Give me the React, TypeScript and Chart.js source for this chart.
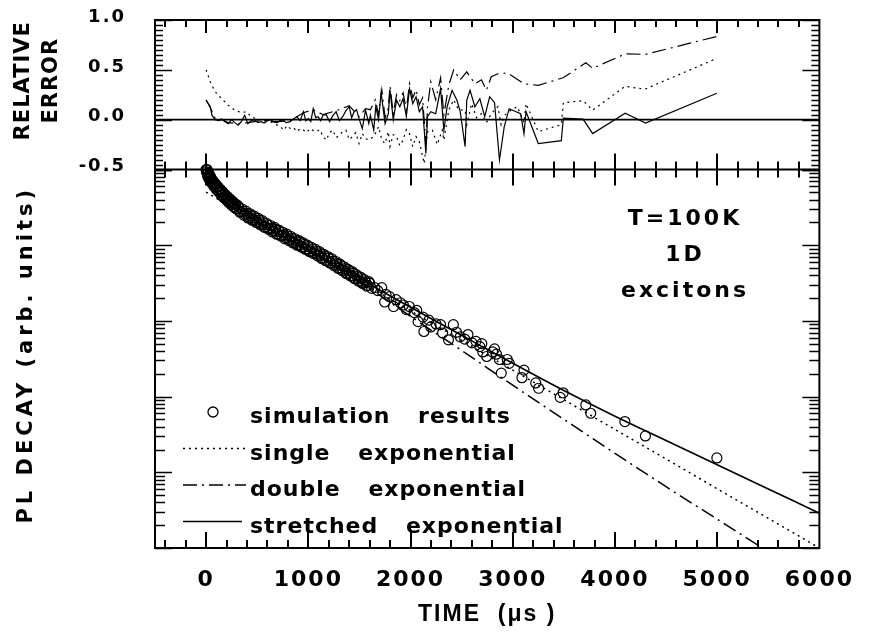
import React, { useEffect, useRef } from "react";
import { Chart, registerables } from "chart.js";
Chart.register(...registerables);

// ---------- DATA ----------
const xTickValues = [0, 1000, 2000, 3000, 4000, 5000, 6000];
const errTickValues = [-0.5, 0.0, 0.5, 1.0];
const legendLabels = ["simulation results", "single exponential", "double exponential", "stretched exponential"];
const annotationLines = ["T=100K", "1D", "excitons"];

// simulation results: time (µs) and log10 of PL decay
const simTime = [
  0, 6, 12, 18, 24, 30, 36, 42, 48, 60, 72, 84, 96, 108, 120, 132, 144, 156, 168, 180, 192, 204, 216, 228, 240, 252, 264, 276, 288, 300,
  320, 340, 360, 380, 400, 420, 440, 460, 480, 500, 520, 540, 560, 580, 600, 620, 640, 660, 680, 700, 720, 740, 760, 780, 800,
  820, 840, 860, 880, 900, 920, 940, 960, 980, 1000, 1020, 1040, 1060, 1080, 1100, 1120, 1140, 1160, 1180, 1200, 1220, 1240,
  1260, 1280, 1300, 1320, 1340, 1360, 1380, 1400, 1420, 1440, 1460, 1480, 1500, 1520, 1540, 1560, 1580, 1600,
  1620, 1650, 1680, 1718, 1747, 1760, 1795, 1834, 1860, 1900, 1930, 1960, 1988, 2036, 2060, 2074, 2122, 2131, 2179, 2198,
  2250, 2294, 2314, 2371, 2419, 2450, 2486, 2530, 2562, 2601, 2640, 2678, 2697, 2707, 2745, 2803, 2822, 2841, 2870, 2888,
  2946, 2965, 3090, 3110, 3225, 3253, 3464, 3493, 3715, 3763, 4097, 4298, 4997,
];
const simLogPL = [
  0.0, -0.01, -0.06, -0.05, -0.10, -0.08, -0.12, -0.11, -0.15, -0.15, -0.20, -0.19, -0.24, -0.23, -0.28, -0.27, -0.29, -0.34, -0.32, -0.36, -0.35, -0.40, -0.39, -0.42, -0.41, -0.46, -0.44, -0.49, -0.47, -0.52,
  -0.50, -0.56, -0.55, -0.59, -0.58, -0.63, -0.61, -0.66, -0.64, -0.69, -0.67, -0.72, -0.70, -0.76, -0.73, -0.78, -0.77, -0.81, -0.79, -0.85, -0.82, -0.87, -0.86, -0.90, -0.88,
  -0.93, -0.91, -0.96, -0.94, -0.99, -0.96, -1.02, -0.99, -1.05, -1.02, -1.08, -1.05, -1.10, -1.08, -1.13, -1.11, -1.17, -1.14, -1.20, -1.17, -1.23, -1.21,
  -1.26, -1.24, -1.30, -1.27, -1.33, -1.31, -1.37, -1.34, -1.40, -1.37, -1.44, -1.41, -1.47, -1.44, -1.50, -1.48, -1.53, -1.50,
  -1.57, -1.56, -1.60, -1.56, -1.75, -1.65, -1.68, -1.81, -1.72, -1.76, -1.79, -1.85, -1.81, -1.89, -1.86, -2.01, -1.95, -2.14, -1.99, -2.08,
  -2.04, -2.05, -2.16, -2.25, -2.05, -2.15, -2.21, -2.24, -2.18, -2.29, -2.27, -2.34, -2.30, -2.41, -2.47, -2.41, -2.37, -2.44, -2.51, -2.69,
  -2.51, -2.56, -2.75, -2.65, -2.82, -2.89, -3.01, -2.95, -3.11, -3.22, -3.33, -3.52, -3.81,
];
// further overlapping simulation circles in the dense early part of the decay
const simTimeDense = [
  3, 9, 15, 21, 27, 33, 39, 45, 54, 66, 78, 90, 102, 114, 126, 138, 150, 162, 174, 186, 198, 210, 222, 234, 246, 258, 270, 282, 294,
  310, 330, 350, 370, 390, 410, 430, 450, 470, 490, 510, 530, 550, 570, 590, 610, 630, 650, 670, 690, 710, 730, 750, 770, 790,
  810, 830, 850, 870, 890, 910, 930, 950, 970, 990, 1010, 1030, 1050, 1070, 1090, 1110, 1130, 1150, 1170, 1190, 1210, 1230,
  1250, 1270, 1290, 1310, 1330, 1350, 1370, 1390, 1410, 1430, 1450, 1470, 1490, 1510, 1530, 1550, 1570, 1590,
];
const simLogPLDense = [
  -0.03, 0.0, -0.09, -0.04, -0.12, -0.07, -0.145, -0.10, -0.18, -0.145, -0.225, -0.185, -0.265, -0.225, -0.30, -0.26, -0.34, -0.295, -0.375, -0.33, -0.405, -0.36, -0.435, -0.39, -0.465, -0.42, -0.495, -0.45, -0.52,
  -0.475, -0.565, -0.52, -0.605, -0.55, -0.64, -0.585, -0.67, -0.615, -0.70, -0.645, -0.73, -0.675, -0.765, -0.71, -0.79, -0.74, -0.825, -0.765, -0.855, -0.80, -0.88, -0.83, -0.915, -0.855,
  -0.94, -0.885, -0.97, -0.915, -1.00, -0.94, -1.025, -0.97, -1.055, -1.00, -1.085, -1.03, -1.11, -1.055, -1.14, -1.085, -1.175, -1.12, -1.205, -1.15, -1.235, -1.18,
  -1.27, -1.215, -1.305, -1.25, -1.335, -1.285, -1.375, -1.32, -1.405, -1.35, -1.44, -1.39, -1.475, -1.42, -1.505, -1.455, -1.54, -1.48,
];

// fitted curves: time and log10 of fitted PL
const singleTime = [0, 6000];
const singleLogPL = [-0.30, -5.0];
const doubleTime = [0, 100, 200, 300, 500, 750, 1000, 1500, 2000, 2500, 3000, 3500, 4000, 4500, 5000, 5500];
const doubleLogPL = [-0.10, -0.24, -0.385, -0.51, -0.685, -0.875, -1.06, -1.48, -1.94, -2.39, -2.85, -3.30, -3.75, -4.19, -4.62, -5.05];
const stretchTime = [0, 50, 100, 200, 300, 500, 750, 1000, 1250, 1500, 2000, 2500, 3000, 3500, 4000, 4500, 5000, 5500, 6000];
const stretchLogPL = [-0.09, -0.15, -0.235, -0.37, -0.49, -0.68, -0.87, -1.05, -1.24, -1.44, -1.82, -2.19, -2.56, -2.92, -3.26, -3.58, -3.90, -4.22, -4.54];

// relative errors
const errSingleTime = [
  0, 41, 73, 105, 153, 217, 281, 345, 393, 441, 489, 537, 585, 632, 664, 696, 728, 760, 792, 824, 856, 888, 920, 952, 984, 1016,
  1048, 1080, 1112, 1144, 1176, 1208, 1240, 1272, 1304, 1336, 1368, 1400, 1432, 1464, 1496, 1528, 1560, 1592, 1640, 1688, 1719,
  1751, 1783, 1799, 1831, 1863, 1895, 1927, 1959, 1990, 2022, 2054, 2086, 2134, 2166, 2214, 2262, 2310, 2326, 2374, 2422, 2470,
  2534, 2550, 2598, 2646, 2694, 2742, 2790, 2854, 2886, 2917, 2981, 3045, 3110, 3130, 3250, 3475, 3495, 3688, 3782, 4100, 4291, 4997,
];
const errSingle = [
  0.50, 0.38, 0.31, 0.26, 0.21, 0.145, 0.095, 0.07, 0.08, 0.03, 0.01, -0.005, -0.01, -0.02, -0.04, -0.055, -0.07, -0.105, -0.06, -0.09, -0.08, -0.12, -0.09, -0.105, -0.13, -0.09,
  -0.11, -0.12, -0.10, -0.17, -0.205, -0.13, -0.105, -0.18, -0.155, -0.12, -0.105, -0.20, -0.17, -0.13, -0.24, -0.14, -0.19, -0.205, -0.17, -0.07, -0.205,
  -0.24, -0.12, -0.27, -0.15, -0.17, -0.26, -0.205, -0.10, -0.14, -0.27, -0.17, -0.22, -0.44, -0.12, -0.105, -0.25, -0.105, -0.205, 0.095, 0.20, 0.10,
  0.095, -0.05, 0.16, 0.02, 0.06, -0.03, 0.06, 0.13, -0.05, 0.04, 0.095, 0.13, -0.03, 0.16, -0.12, -0.05, 0.17, 0.19, 0.095, 0.335, 0.305, 0.615,
];
const errDoubleTime = [
  0, 41, 89, 153, 217, 313, 409, 537, 696, 824, 952, 1048, 1144, 1272, 1400, 1496, 1560, 1607, 1655, 1687, 1719, 1751, 1783, 1799,
  1831, 1863, 1895, 1927, 1959, 1990, 2022, 2054, 2086, 2118, 2150, 2166, 2198, 2246, 2294, 2326, 2374, 2422, 2486, 2550, 2630,
  2694, 2742, 2790, 2854, 2950, 3110, 3250, 3493, 3715, 3782, 4100, 4298, 4997,
];
const errDouble = [
  0.20, 0.12, 0.01, 0.005, -0.03, -0.04, -0.03, -0.01, -0.02, -0.01, 0.07, 0.10, 0.05, 0.09, 0.14, 0.03, 0.11, 0.10, 0.20, 0.05, 0.30, 0.02, 0.12, 0.34,
  0.06, 0.25, 0.19, 0.27, 0.10, 0.36, 0.22, 0.30, 0.15, 0.22, -0.25, 0.12, 0.38, 0.20, 0.42, 0.05, 0.345, 0.50, 0.40, 0.48, 0.36,
  0.40, 0.295, 0.43, 0.46, 0.47, 0.36, 0.345, 0.42, 0.57, 0.515, 0.66, 0.655, 0.835,
];
const errStretchTime = [
  0, 41, 57, 89, 120, 153, 185, 217, 249, 281, 313, 345, 377, 409, 441, 473, 505, 537, 569, 600, 632, 664, 696, 720, 744, 784, 824,
  856, 888, 920, 952, 976, 1000, 1024, 1048, 1072, 1096, 1120, 1144, 1176, 1208, 1240, 1272, 1304, 1336, 1368, 1400, 1424, 1448,
  1472, 1496, 1528, 1560, 1592, 1607, 1640, 1660, 1687, 1712, 1751, 1783, 1799, 1831, 1863, 1895, 1927, 1959, 1990, 2022, 2054,
  2086, 2118, 2150, 2166, 2198, 2246, 2294, 2326, 2358, 2406, 2454, 2486, 2534, 2550, 2582, 2630, 2678, 2726, 2774, 2822, 2870,
  2917, 2965, 3077, 3110, 3130, 3250, 3475, 3495, 3688, 3782, 4100, 4300, 4997,
];
const errStretch = [
  0.195, 0.13, 0.045, 0, -0.01, 0, -0.02, -0.04, 0, -0.03, -0.055, -0.02, 0.045, -0.04, -0.01, 0, -0.03, -0.02, -0.035, -0.01, 0, -0.025, -0.03, -0.01, 0, -0.03, -0.02,
  0.01, 0.03, -0.01, 0.08, -0.01, 0.01, -0.02, 0.11, 0.02, 0.03, -0.01, 0.045, 0.05, -0.02, 0.04, 0.08, -0.01, 0.03, 0.09, 0.13, 0.02, 0.08,
  0.10, 0.01, -0.09, 0.095, -0.04, 0.045, -0.105, 0.13, 0, 0.27, -0.04, 0.06, 0.295, 0, 0.195, 0.13, 0.21, 0.03, 0.31, 0.16, 0.23,
  0.08, 0.13, -0.34, 0.03, 0.08, 0.06, 0.31, -0.105, 0.13, 0.295, 0.195, 0.08, -0.27, 0.195, 0.295, 0.13, 0.21, 0.03, 0.23, 0.17, -0.405,
  -0.07, 0.11, 0.06, -0.14, 0.08, -0.24, -0.21, 0.015, 0.005, -0.14, 0.065, -0.035, 0.265,
];

// ---------- helpers ----------
const FONT = '"DejaVu Sans", "Liberation Sans", sans-serif';
const pts = (xs: number[], ys: number[]) => xs.map((x, i) => ({ x, y: ys[i] }));
const logPts = (xs: number[], ys: number[]) => xs.map((x, i) => ({ x, y: Math.pow(10, ys[i]) }));
const DASHDOT = [14, 5, 2, 5];
const DOTTED = [2, 4];

const spacingPlugin = {
  id: "spacing",
  beforeUpdate(chart: any) { chart.ctx.letterSpacing = "2px"; },
  beforeDraw(chart: any) {
    chart.ctx.letterSpacing = "2px";
    const { ctx, width, height } = chart;
    ctx.save();
    ctx.fillStyle = "#fff";
    ctx.fillRect(0, 0, width, height);
    ctx.restore();
  },
};

const framePlugin = {
  id: "frame",
  afterDraw(chart: any) {
    const { ctx, chartArea: a, scales } = chart;
    const x = scales.x, ye = scales.yErr, yp = scales.yPL;
    const split = ye.bottom;
    const seg = (x1: number, y1: number, x2: number, y2: number) => {
      ctx.beginPath(); ctx.moveTo(x1, y1); ctx.lineTo(x2, y2); ctx.stroke();
    };
    ctx.save();
    ctx.globalAlpha = 1;
    ctx.globalCompositeOperation = "source-over";
    ctx.strokeStyle = "#000000";
    ctx.setLineDash([]);
    // zero line
    ctx.lineWidth = 1.6;
    const y0 = ye.getPixelForValue(0);
    seg(a.left, y0, a.right, y0);
    // x ticks
    ctx.lineWidth = 2;
    for (let v = -400; v <= 5800; v += 200) {
      const px = Math.round(x.getPixelForValue(v));
      const major = v % 1000 === 0;
      seg(px, a.top, px, a.top + (major ? 13 : 7));
      const L = major ? 16 : 8;
      seg(px, split - L, px, split + L);
      seg(px, a.bottom, px, a.bottom - L);
    }
    // relative error ticks
    for (let i = -10; i <= 20; i++) {
      const py = Math.round(ye.getPixelForValue(i * 0.05)) + 0.5;
      const L = i % 10 === 0 ? 17 : 8;
      ctx.lineWidth = 1.5;
      seg(a.left, py, a.left + L, py);
      seg(a.right, py, a.right - L, py);
    }
    // log ticks
    for (let e = -5; e <= 0; e++) {
      for (let m = 1; m <= 9; m++) {
        const v = m * Math.pow(10, e);
        if (v > 1) break;
        const py = Math.round(yp.getPixelForValue(v)) + 0.5;
        const L = m === 1 ? 17 : 10;
        ctx.lineWidth = 1.5;
        seg(a.left, py, a.left + L, py);
        seg(a.right, py, a.right - L, py);
      }
    }
    // frame
    ctx.lineWidth = 2;
    ctx.strokeRect(a.left, a.top, a.right - a.left, a.bottom - a.top);
    seg(a.left, split, a.right, split);

    // y titles
    ctx.fillStyle = "#000";
    ctx.textAlign = "center";
    ctx.textBaseline = "alphabetic";
    ctx.font = `bold 21px ${FONT}`;
    ctx.letterSpacing = "1px";
    const rot = (text: string, bx: number, cy: number) => {
      ctx.save(); ctx.translate(bx, cy); ctx.rotate(-Math.PI / 2); ctx.fillText(text, 0, 0); ctx.restore();
    };
    const midErr = (ye.top + ye.bottom) / 2 - 14;
    rot("RELATIVE", 29, midErr);
    rot("ERROR", 57, midErr);
    ctx.letterSpacing = "4px";
    rot("PL DECAY (arb. units)", 32, (yp.top + yp.bottom) / 2 - 4);

    // annotation
    ctx.font = `bold 22px ${FONT}`;
    ctx.letterSpacing = "3px";
    const ax = 685;
    annotationLines.forEach((t, i) => ctx.fillText(t, ax, 225 + i * 36));

    // legend
    const ds = chart.data.datasets;
    ctx.textAlign = "left";
    ctx.font = `bold 22px ${FONT}`;
    ctx.letterSpacing = "1px";
    (ctx as any).wordSpacing = "19px";
    const rows = [412, 448.5, 485, 521.5];
    rows.forEach((ry, i) => {
      const d = ds[i];
      ctx.strokeStyle = "#000";
      if (i === 0) {
        ctx.lineWidth = 1.3;
        ctx.setLineDash([]);
        ctx.beginPath(); ctx.arc(213, ry, 5, 0, Math.PI * 2); ctx.stroke();
      } else {
        ctx.lineWidth = d.borderWidth;
        ctx.setLineDash(d.borderDash || []);
        seg(183, ry, i === 3 ? 242 : 246, ry);
      }
      ctx.setLineDash([]);
      ctx.fillText(d.label, 250, ry + 11);
    });
    ctx.restore();
  },
};

export default function App() {
  const ref = useRef<HTMLCanvasElement>(null);
  useEffect(() => {
    if (!ref.current) return;
    Chart.defaults.font.family = FONT;
    Chart.defaults.color = "#000";
    const lineBase = { showLine: true, pointRadius: 0, fill: false, borderColor: "#000", xAxisID: "x" };
    const simPoints = logPts(simTime, simLogPL).concat(logPts(simTimeDense, simLogPLDense));
    const chart = new Chart(ref.current, {
      type: "scatter",
      data: {
        datasets: [
          { ...lineBase, label: legendLabels[0], data: simPoints, yAxisID: "yPL", showLine: false,
            pointRadius: 5, pointBorderWidth: 1.2, pointBorderColor: "#000", pointBackgroundColor: "rgba(0,0,0,0)", clip: 8, order: 0 } as any,
          { ...lineBase, label: legendLabels[1], data: logPts(singleTime, singleLogPL), yAxisID: "yPL", borderWidth: 1.5, borderDash: DOTTED, order: 1 },
          { ...lineBase, label: legendLabels[2], data: logPts(doubleTime, doubleLogPL), yAxisID: "yPL", borderWidth: 1.5, borderDash: DASHDOT, cubicInterpolationMode: "monotone", order: 2 },
          { ...lineBase, label: legendLabels[3], data: logPts(stretchTime, stretchLogPL), yAxisID: "yPL", borderWidth: 1.6, cubicInterpolationMode: "monotone", order: 3 },
          { ...lineBase, label: "err single", data: pts(errSingleTime, errSingle), yAxisID: "yErr", borderWidth: 1.2, borderDash: DOTTED, order: 4 },
          { ...lineBase, label: "err double", data: pts(errDoubleTime, errDouble), yAxisID: "yErr", borderWidth: 1.2, borderDash: DASHDOT, order: 5 },
          { ...lineBase, label: "err stretched", data: pts(errStretchTime, errStretch), yAxisID: "yErr", borderWidth: 1.2, order: 6 },
        ],
      },
      options: {
        responsive: false,
        animation: false,
        events: [],
        layout: { padding: { top: 20, right: 41, bottom: 0, left: 0 } },
        plugins: { legend: { display: false }, tooltip: { enabled: false } },
        scales: {
          x: {
            type: "linear", position: "bottom", min: -500, max: 6000,
            grid: { display: false, drawTicks: false }, border: { display: false },
            afterBuildTicks: (s: any) => { s.ticks = xTickValues.map((v) => ({ value: v })); },
            afterFit: (s: any) => { s.height = 84; },
            ticks: { autoSkip: false, maxRotation: 0, padding: 19, color: "#000",
              font: { family: FONT, size: 22, weight: "bold" }, callback: (v: any) => String(v) },
            title: { display: true, text: "TIME  (μs )", color: "#000", padding: { top: 0, bottom: 4 },
              font: { family: '"Liberation Sans", Arial, sans-serif', size: 23, weight: "bold" } },
          },
          yPL: {
            type: "logarithmic", position: "left", stack: "panels", stackWeight: 378.5, min: 1e-5, max: 1,
            grid: { display: false, drawTicks: false }, border: { display: false },
            afterFit: (s: any) => { s.width = 155; s.paddingTop = 0; s.paddingBottom = 0; },
            ticks: { display: false },
          },
          yErr: {
            type: "linear", position: "left", stack: "panels", stackWeight: 149.5, min: -0.5, max: 1.0,
            grid: { display: false, drawTicks: false }, border: { display: false },
            afterBuildTicks: (s: any) => { s.ticks = errTickValues.map((v) => ({ value: v })); },
            afterFit: (s: any) => { s.width = 155; s.paddingTop = 0; s.paddingBottom = 0; },
            ticks: { padding: 29, labelOffset: -3, color: "#000", font: { family: FONT, size: 18, weight: "bold" },
              callback: (v: any) => Number(v).toFixed(1) },
          },
        },
      } as any,
      plugins: [spacingPlugin, framePlugin],
    });
    return () => chart.destroy();
  }, []);
  return (
    <div style={{ position: "fixed", left: 0, top: 0, width: 873, height: 632, background: "#fff" }}>
      <canvas ref={ref} width={873} height={632} style={{ display: "block" }} />
    </div>
  );
}
